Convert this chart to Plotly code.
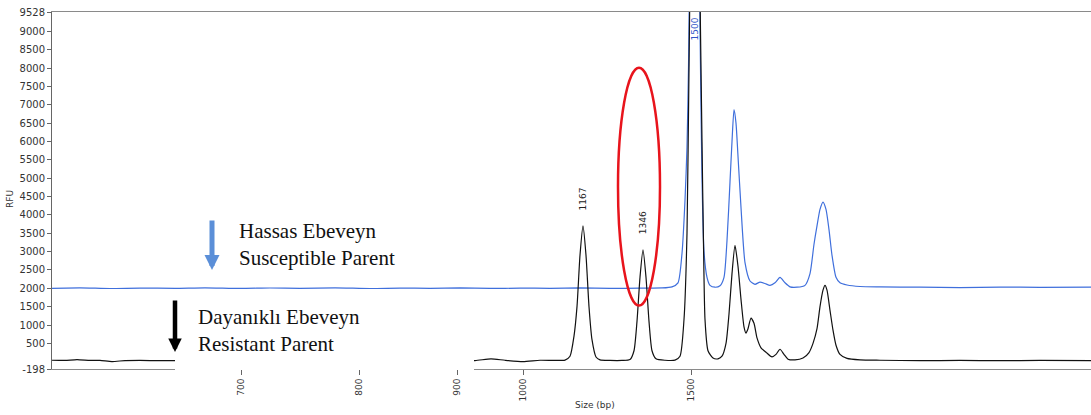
import plotly.graph_objects as go

# ---------------- data ----------------
# x positions are in scan units (the size axis is non-linear, so ladder sizes are placed at scan positions)
ladder_sizes = [700, 800, 900, 1000, 1500]
ladder_scans = [241, 359, 457, 523, 691]

y_ticks = [-198, 500, 1000, 1500, 2000, 2500, 3000, 3500, 4000, 4500, 5000,
           5500, 6000, 6500, 7000, 7500, 8000, 8500, 9000, 9528]

# Susceptible parent (blue trace, offset baseline ~2000 RFU)
blue_scan = [52, 80, 110, 140, 175, 205, 240, 270, 300, 335, 370, 400, 430, 460,
             490, 520, 550, 580, 610, 640, 662, 672, 678, 682, 685, 687, 688.5, 690,
             695, 699, 700.5, 702, 704, 707, 710, 715, 720, 724, 727, 730, 732, 734,
             736, 738, 741, 745, 750, 755, 760, 765, 770, 775, 780, 785, 790, 797,
             805, 810, 814, 817, 820, 823, 826, 829, 832, 836, 840, 847, 860, 880,
             920, 960, 1000, 1040, 1091]
blue_rfu = [2000, 2012, 1995, 2006, 2000, 2014, 1996, 2009, 2001, 2013, 1995, 2006,
            2000, 2010, 1996, 2005, 2001, 2011, 1996, 2006, 2010, 2040, 2150, 2950,
            4400, 5850, 8000, 11000, 14000, 11000, 8000, 5000, 3000, 2300, 2080, 2030,
            2070, 2300, 3300, 4900, 6000, 6870, 6500, 5600, 4200, 2700, 2200, 2110,
            2170, 2130, 2080, 2150, 2300, 2150, 2040, 2030, 2080, 2400, 3200, 3700,
            4150, 4350, 4150, 3600, 2900, 2300, 2150, 2090, 2050, 2040, 2030, 2020,
            2035, 2025, 2030]

# Resistant parent (black trace, baseline ~0 RFU)
black_scan = [52, 65, 77, 90, 100, 112, 125, 140, 160, 175, 200, 250, 300, 350, 400,
              450, 475, 491, 505, 523, 540, 555, 565, 570, 574, 577, 580, 583, 586,
              589, 592, 596, 600, 610, 622, 630, 634, 637, 640, 643, 646, 649, 652,
              656, 665, 675, 680, 684, 687, 689, 691, 695, 699, 700.5, 702, 703.5, 705,
              708, 713, 718, 722, 726, 729, 732, 735, 738, 741, 744, 746, 748, 751,
              754, 757, 761, 766, 772, 776, 780, 784, 788, 795, 803, 809, 813, 817,
              820, 823, 825, 827, 830, 833, 836, 840, 847, 860, 880, 920, 960, 1000,
              1040, 1091]
black_rfu = [40, 35, 60, 35, 35, 5, 30, 35, 30, 30, 35, 30, 35, 30, 35, 30, 30, 80,
             40, 5, 40, 35, 45, 150, 700, 1500, 2900, 3700, 2900, 1500, 600, 130, 50,
             35, 35, 60, 300, 1100, 2300, 3050, 2300, 1100, 300, 80, 40, 45, 150,
             1150, 3500, 8000, 12000, 14000, 12000, 9000, 6000, 3200, 1150, 300, 100,
             80, 150, 500, 1300, 2400, 3170, 2600, 1700, 950, 780, 900, 1190, 1050,
             650, 380, 260, 130, 200, 340, 200, 70, 50, 100, 250, 500, 900, 1500,
             1950, 2080, 1950, 1400, 860, 450, 200, 90, 50, 40, 30, 35, 30, 35, 30]

peak_labels = ["1167", "1346", "1500"]
peak_scans = [583, 643, 694]
peak_rfu = [3700, 3050, 9528]
peak_colors = ["#222222", "#222222", "#2f55c8"]

label_susceptible = "Hassas Ebeveyn<br>Susceptible Parent"
label_resistant = "Dayanıklı Ebeveyn<br>Resistant Parent"

# ---------------- layout geometry ----------------
W, H = 1091, 415
L, T, R = 52, 12, 1091        # plot area edges in pixels
B = 369
PW, PH = R - L, B - T


def px(x):
    return (x - L) / PW


def py(y):
    return (B - y) / PH


# ---------------- figure ----------------
fig = go.Figure()
fig.add_trace(go.Scatter(x=blue_scan, y=blue_rfu, mode="lines",
                         line=dict(color="#3f6fdc", width=1.2, shape="spline", smoothing=0.6),
                         hoverinfo="skip"))
fig.add_trace(go.Scatter(x=black_scan, y=black_rfu, mode="lines",
                         line=dict(color="#111111", width=1.2, shape="spline", smoothing=0.6),
                         hoverinfo="skip"))

tickfont = dict(family="DejaVu Sans", size=9, color="#333333")

fig.update_layout(
    width=W, height=H,
    margin=dict(l=L, r=W - R, t=T, b=H - B, pad=0),
    plot_bgcolor="white", paper_bgcolor="white",
    showlegend=False,
    xaxis=dict(range=[52, 1091], showgrid=False, zeroline=False,
               showline=True, linecolor="#8a8a8a", linewidth=1, mirror=True,
               ticks="outside", ticklen=5, tickcolor="#666666",
               tickvals=ladder_scans, ticktext=[str(s) for s in ladder_sizes],
               tickangle=-90, tickfont=tickfont),
    yaxis=dict(range=[-198, 9528], showgrid=False, zeroline=False,
               showline=True, linecolor="#666666", linewidth=1,
               ticks="outside", ticklen=4, tickcolor="#666666",
               tickvals=y_ticks, ticktext=[str(v) for v in y_ticks],
               tickfont=dict(family="DejaVu Sans", size=10, color="#333333")),
)

# white box pasted over part of the black trace (as in the reference figure)
fig.add_shape(type="rect", xref="x", yref="paper", x0=175, x1=474, y0=-0.003, y1=py(294),
              fillcolor="white", line=dict(width=0), layer="above")

# red ellipse highlighting the 1346 peak
fig.add_shape(type="circle", xref="x", yref="y", x0=618, x1=660, y0=1530, y1=8010,
              line=dict(color="#e8141c", width=2.5), layer="above")

# peak labels
for lab, xs, ys, col in zip(peak_labels, peak_scans, peak_rfu, peak_colors):
    if ys >= 9528:
        fig.add_annotation(x=xs, y=ys, text=lab, showarrow=False, textangle=-90,
                           yanchor="top", yshift=-4,
                           font=dict(family="DejaVu Sans", size=9, color=col))
    else:
        fig.add_annotation(x=xs, y=ys, text=lab, showarrow=False, textangle=-90,
                           yanchor="bottom", yshift=13,
                           font=dict(family="DejaVu Sans", size=9, color=col))

serif = dict(family="Liberation Serif", size=21, color="#111111")
fig.add_annotation(xref="paper", yref="paper", x=px(237), y=py(244), text=label_susceptible,
                   showarrow=False, xanchor="left", yanchor="middle", align="left", font=serif)
fig.add_annotation(xref="paper", yref="paper", x=px(196), y=py(330), text=label_resistant,
                   showarrow=False, xanchor="left", yanchor="middle", align="left", font=serif)

# arrows
fig.add_annotation(xref="paper", yref="paper", x=px(212), y=py(270),
                   ax=0, ay=-51, text="", showarrow=True, arrowhead=2, arrowsize=0.6,
                   arrowwidth=5, arrowcolor="#5b8fd8")
fig.add_annotation(xref="paper", yref="paper", x=px(175), y=py(352),
                   ax=0, ay=-53, text="", showarrow=True, arrowhead=2, arrowsize=0.6,
                   arrowwidth=4.5, arrowcolor="#000000")

# axis titles
fig.add_annotation(xref="paper", yref="paper", x=px(595), y=py(405),
                   text="Size (bp)", showarrow=False, xanchor="center", yanchor="middle",
                   font=dict(family="DejaVu Sans", size=9, color="#333333"))
fig.add_annotation(xref="paper", yref="paper", x=px(10), y=py(199),
                   text="RFU", showarrow=False, textangle=-90, xanchor="center", yanchor="middle",
                   font=dict(family="DejaVu Sans", size=9, color="#333333"))

# the page is shown edge to edge, like the reference picture
fig.write_html("out.html", config={"displayModeBar": False},
               post_script="document.body.style.margin='0';document.body.style.overflow='hidden';")
